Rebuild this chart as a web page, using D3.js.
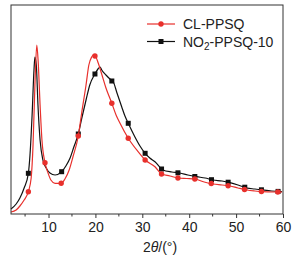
<!DOCTYPE html>
<html>
<head>
<meta charset="utf-8">
<script src="https://cdn.jsdelivr.net/npm/d3@7"></script>
<style>
  body { margin: 0; background: #fff; }
  svg { display: block; font-family: Arial, "Liberation Sans", sans-serif; }
</style>
</head>
<body>
<svg id="chart" width="299" height="259"></svg>
<script>
// CL-PPSQ, [2theta, intensity a.u.]
const clPPSQ = [
  [2.0, 20], [3.1, 40], [3.9, 80], [4.8, 140], [5.7, 223], [6.3, 360], [6.7, 690],
  [7.1, 1290], [7.5, 1690], [7.8, 1520], [8.2, 1090], [8.6, 740], [9.25, 513],
  [9.9, 410], [10.5, 340], [11.4, 307], [12.7, 307], [13.5, 350], [14.4, 440],
  [15.2, 570], [16.35, 780], [17.1, 1020], [18.0, 1290], [18.6, 1490], [19.2, 1570],
  [19.55, 1590], [20.1, 1570], [20.6, 1510], [21.4, 1390], [22.25, 1260], [23.5, 1107],
  [24.4, 990], [25.25, 907], [27.0, 757], [29.1, 623], [30.6, 540], [32.7, 473],
  [34.1, 400], [35.9, 380], [37.6, 360], [39.5, 355], [41.2, 350], [43.2, 320],
  [45.1, 300], [47.0, 290], [48.7, 280], [50.4, 260], [52.3, 240], [54.0, 230],
  [55.7, 223], [57.6, 220], [59.8, 220]
];
// NO2-PPSQ-10
const no2PPSQ = [
  [2.0, 50], [3.1, 100], [3.9, 160], [4.8, 260], [5.7, 407], [6.05, 590], [6.5, 990],
  [6.9, 1440], [7.1, 1570], [7.4, 1490], [7.75, 1090], [8.2, 740], [8.8, 540],
  [9.5, 460], [10.3, 410], [11.4, 390], [12.8, 423], [13.7, 480], [14.6, 560],
  [15.4, 670], [16.35, 800], [17.1, 960], [18.0, 1140], [18.8, 1290], [19.9, 1400],
  [20.55, 1450], [21.0, 1470], [21.35, 1440], [22.25, 1390], [23.1, 1350], [23.8, 1323],
  [24.6, 1210], [25.6, 1073], [26.3, 980], [27.0, 907], [28.4, 773], [29.5, 680],
  [30.6, 607], [31.6, 560], [32.7, 523], [34.4, 440], [36.3, 420], [38.0, 410],
  [39.7, 390], [41.6, 373], [43.4, 360], [45.1, 340], [47.0, 330], [48.7, 313],
  [50.4, 290], [52.3, 260], [54.0, 250], [55.7, 240], [57.6, 230], [59.8, 223]
];
// symbol positions
const clMarks = [
  [5.7, 223], [9.25, 513], [12.7, 307], [16.35, 780], [19.9, 1580], [23.5, 1107],
  [27.0, 757], [30.6, 540], [34.1, 400], [37.6, 360], [41.2, 350], [44.7, 305],
  [48.3, 283], [51.8, 245], [55.4, 225], [58.9, 220]
];
const no2Marks = [
  [5.7, 407], [12.8, 423], [16.35, 800], [19.9, 1400], [23.5, 1330],
  [27.0, 907], [30.6, 607], [34.1, 450], [37.6, 412], [41.2, 375], [44.75, 343],
  [48.3, 318], [51.85, 268], [55.4, 242], [58.95, 226]
];
const xTicks = [10, 20, 30, 40, 50, 60];
const xMinor = [5, 15, 25, 35, 45, 55];

const svg = d3.select("#chart");
const plotL = 11, plotR = 283, plotT = 5, plotB = 214;

const x = d3.scaleLinear().domain([2, 60]).range([plotL, plotR]);
const y = d3.scaleLinear().domain([0, 2090]).range([plotB, plotT]);

const line = d3.line().curve(d3.curveMonotoneX).x(d => x(d[0])).y(d => y(d[1]));

// black first, red drawn on top
svg.append("path").datum(no2PPSQ)
  .attr("d", line).attr("fill", "none")
  .attr("stroke", "#111").attr("stroke-width", 1.2);
svg.selectAll(".m2").data(no2Marks).enter().append("rect")
  .attr("x", d => x(d[0]) - 2.5).attr("y", d => y(d[1]) - 2.5)
  .attr("width", 5).attr("height", 5).attr("fill", "#111");

svg.append("path").datum(clPPSQ)
  .attr("d", line).attr("fill", "none")
  .attr("stroke", "#e8302c").attr("stroke-width", 1.2);
svg.selectAll(".m1").data(clMarks).enter().append("circle")
  .attr("cx", d => x(d[0])).attr("cy", d => y(d[1]))
  .attr("r", 2.7).attr("fill", "#e8302c");

// frame
svg.append("rect")
  .attr("x", plotL).attr("y", plotT)
  .attr("width", plotR - plotL).attr("height", plotB - plotT)
  .attr("fill", "none").attr("stroke", "#333").attr("stroke-width", 1);

// x axis ticks
const ax = svg.append("g").attr("transform", `translate(0,${plotB})`)
  .call(d3.axisBottom(x).tickValues(xTicks).tickSize(4).tickPadding(4).tickFormat(d3.format("d")));
ax.select(".domain").remove();
ax.selectAll("line").attr("stroke", "#333");
ax.selectAll("text").attr("font-size", 14).attr("fill", "#222")
  .attr("font-family", "Arial, 'Liberation Sans', sans-serif");
svg.selectAll(".minor").data(xMinor).enter().append("line")
  .attr("x1", d => x(d)).attr("x2", d => x(d))
  .attr("y1", plotB).attr("y2", plotB + 2.5).attr("stroke", "#333");

// axis title
const title = svg.append("text").attr("x", 160).attr("y", 252)
  .attr("text-anchor", "middle").attr("font-size", 14).attr("fill", "#222");
title.append("tspan").text("2");
title.append("tspan").attr("font-style", "italic").text("θ");
title.append("tspan").text("/(°)");

// legend
const lg = svg.append("g");
lg.append("line").attr("x1", 147).attr("x2", 175).attr("y1", 24).attr("y2", 24)
  .attr("stroke", "#e8302c").attr("stroke-width", 1.2);
lg.append("circle").attr("cx", 161).attr("cy", 24).attr("r", 2.7).attr("fill", "#e8302c");
lg.append("text").attr("x", 183).attr("y", 29).attr("font-size", 14).attr("fill", "#222")
  .text("CL-PPSQ");
lg.append("line").attr("x1", 147).attr("x2", 175).attr("y1", 41.5).attr("y2", 41.5)
  .attr("stroke", "#111").attr("stroke-width", 1.2);
lg.append("rect").attr("x", 158.5).attr("y", 39).attr("width", 5).attr("height", 5).attr("fill", "#111");
const t2 = lg.append("text").attr("x", 183).attr("y", 46.5).attr("font-size", 14).attr("fill", "#222");
t2.append("tspan").text("NO");
t2.append("tspan").attr("font-size", 10).attr("dy", 3).text("2");
t2.append("tspan").attr("dy", -3).text("-PPSQ-10");
</script>
</body>
</html>
